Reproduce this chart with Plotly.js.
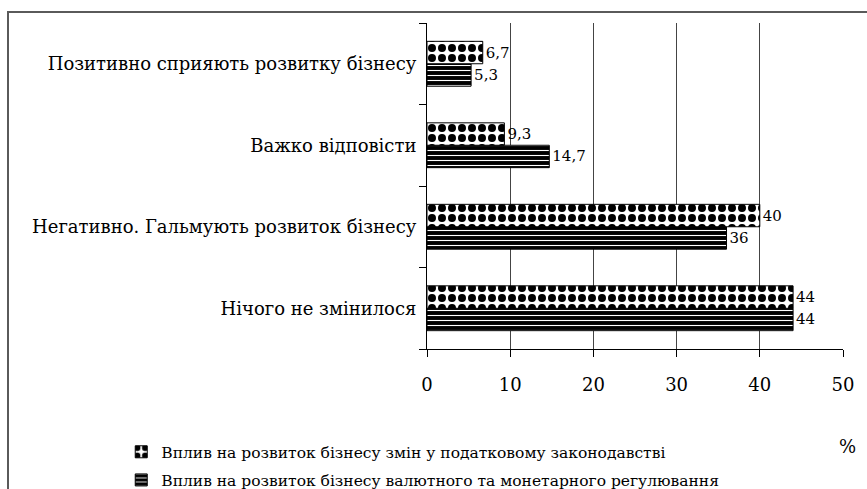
<!DOCTYPE html>
<html><head><meta charset="utf-8">
<script src="https://cdn.plot.ly/plotly-3.0.1.min.js"></script>
<style>
html,body{margin:0;padding:0;background:#fff;overflow:hidden}
#wrap{position:relative;width:867px;height:489px}
#chart{width:867px;height:489px}
#frame{position:absolute;left:7px;top:11px;width:900px;height:520px;border-left:2px solid #5a5a5a;border-top:2px solid #5a5a5a;pointer-events:none}
</style></head>
<body>
<div id="wrap"><div id="chart"></div><div id="frame"></div></div>
<script>
// categories bottom-to-top
const categories = ["Нічого не змінилося", "Негативно. Гальмують розвиток бізнесу", "Важко відповісти", "Позитивно сприяють розвитку бізнесу"];
const seriesTaxName = "Вплив на розвиток бізнесу змін у податковому законодавстві";
const seriesCurName = "Вплив на розвиток бізнесу валютного та монетарного регулювання";
const taxValues = [44, 40, 9.3, 6.7];
const curValues = [44, 36, 14.7, 5.3];
const xTicks = [0, 10, 20, 30, 40, 50];

const fmt = v => String(v).replace('.', ',');
const serif = "DejaVu Serif";

const traceCur = {
  type: 'bar', orientation: 'h', name: seriesCurName, legendgroup: 'b', legendrank: 2,
  y: categories, x: curValues, text: curValues.map(fmt),
  textposition: 'outside', cliponaxis: false,
  textfont: {family: serif, size: 15, color: '#000'},
  marker: {color: '#000', line: {color: '#000', width: 1},
    pattern: {shape: '-', fgcolor: '#fff', bgcolor: '#000', size: 5, solidity: 0.22, fillmode: 'replace'}}
};
const traceTax = {
  type: 'bar', orientation: 'h', name: seriesTaxName, legendgroup: 'a', legendrank: 1,
  y: categories, x: taxValues, text: taxValues.map(fmt),
  textposition: 'outside', cliponaxis: false,
  textfont: {family: serif, size: 15, color: '#000'},
  marker: {color: '#fff', line: {color: '#000', width: 1},
    pattern: {shape: '.', fgcolor: '#000', bgcolor: '#fff', size: 10, solidity: 0.5, fillmode: 'replace'}}
};

const layout = {
  width: 867, height: 489,
  margin: {l: 427, r: 24, t: 23, b: 140, autoexpand: false},
  paper_bgcolor: '#fff', plot_bgcolor: '#fff',
  font: {family: serif, size: 18, color: '#000'},
  barmode: 'group', bargap: 0.45, bargroupgap: 0,
  showlegend: true,
  legend: {x: -0.735, xanchor: 'left', yref: 'container', y: 0.11, yanchor: 'top',
    traceorder: 'grouped', tracegroupgap: 5,
    font: {family: serif, size: 15.5, color: '#000'}, bgcolor: 'rgba(0,0,0,0)'},
  xaxis: {range: [0, 50], tickvals: xTicks, ticktext: xTicks.map(String),
    showgrid: true, gridcolor: '#444', gridwidth: 1,
    showline: true, linecolor: '#000', linewidth: 1,
    ticks: 'outside', ticklen: 7, tickcolor: '#000', ticklabelstandoff: 12,
    zeroline: false, fixedrange: true, automargin: false,
    tickfont: {family: serif, size: 18, color: '#000'}},
  yaxis: {type: 'category', categoryorder: 'array', categoryarray: categories,
    showline: true, linecolor: '#000', linewidth: 1,
    ticks: 'outside', ticklen: 7, tickcolor: '#000', tickson: 'boundaries',
    showgrid: false, zeroline: false, fixedrange: true, ticklabelstandoff: 6, automargin: false,
    tickfont: {family: serif, size: 18, color: '#000'}},
  annotations: [{text: '%', xref: 'paper', yref: 'paper', x: 1.036, y: -0.3, yanchor: 'middle',
    showarrow: false, font: {family: serif, size: 18, color: '#000'}}]
};

Plotly.newPlot('chart', [traceCur, traceTax], layout, {displayModeBar: false, staticPlot: true});
</script>
</body></html>
